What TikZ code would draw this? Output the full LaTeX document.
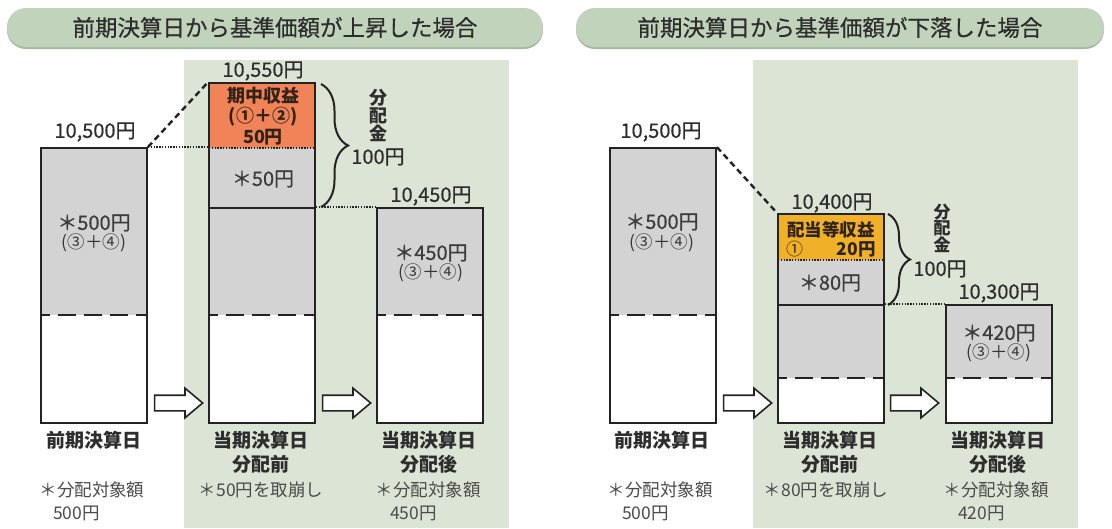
\documentclass[tikz,border=0pt]{standalone}
\usepackage{fontspec}
\setmainfont{Noto Sans CJK JP}
\newfontfamily\medfont[FakeBold=0.5]{Noto Sans CJK JP}
\usetikzlibrary{shapes.arrows,decorations.pathreplacing}
\definecolor{pillc}{RGB}{193,211,187}
\definecolor{pillsh}{RGB}{166,186,160}
\definecolor{greenbg}{RGB}{219,228,213}
\definecolor{grayc}{RGB}{211,211,211}
\definecolor{orangeL}{RGB}{240,131,88}
\definecolor{amberR}{RGB}{240,176,40}
\definecolor{txt}{RGB}{45,45,45}
\definecolor{lineC}{RGB}{35,35,35}
\begin{document}
\begin{tikzpicture}[x=1pt,y=-1pt,
  every node/.style={inner sep=0pt,text=txt},
  barbox/.style={draw=lineC,line width=1.8pt,minimum width=106pt,inner sep=0pt},
  bardash/.style={draw=lineC,line width=1.8pt,dash pattern=on 18pt off 8pt,dash phase=9pt},
  barsolid/.style={draw=lineC,line width=1.8pt},
  bardot/.style={draw=lineC,line width=1.4pt,dash pattern=on 1.4pt off 1.4pt},
  diag/.style={draw=lineC,line width=2.4pt,dash pattern=on 6pt off 4pt},
  hdot/.style={draw=lineC,line width=1.4pt,dash pattern=on 1.4pt off 1.4pt},
  pill/.style={rounded corners=19pt,minimum height=39pt,inner sep=0pt},
  ttl/.style={font=\medfont\fontsize{22.5}{24}\selectfont,text=txt},
  val/.style={font=\medfont\fontsize{20}{22}\selectfont},
  inb/.style={font=\medfont\fontsize{20}{22}\selectfont,text={rgb,255:red,60;green,60;blue,60}},
  par/.style={font=\fontsize{17.5}{19}\selectfont,text={rgb,255:red,55;green,55;blue,55}},
  hl/.style={font=\bfseries\fontsize{18}{20}\selectfont,text={rgb,255:red,50;green,35;blue,25}},
  capt/.style={font=\bfseries\fontsize{19}{24}\selectfont,align=center,anchor=north},
  note/.style={font=\fontsize{17.5}{19}\selectfont,text={rgb,255:red,75;green,75;blue,75}},
  vert/.style={font=\bfseries\fontsize{18}{18}\selectfont,align=center},
  blk/.style={single arrow,draw=lineC,fill=white,line width=1.6pt,inner xsep=0pt,inner ysep=7pt,
    single arrow head extend=7pt,single arrow tip angle=80,minimum height=48pt},
  brc/.style={draw=lineC,line width=2pt,decorate}
]
\useasboundingbox (0,0) rectangle (1112,528);
\fill[white] (0,0) rectangle (1112,528);

% ---------- titles ----------
\fill[pillsh,rounded corners=19pt] (7,10) rectangle (543,49);
\node[pill,fill=pillc,minimum width=536pt] (T1) at (275,27.5) {};
\node[ttl] (T1t) at (T1.center) {前期決算日から基準価額が上昇した場合};
\fill[pillsh,rounded corners=19pt] (576,10) rectangle (1104,49);
\node[pill,fill=pillc,minimum width=528pt] (T2) at (840,27.5) {};
\node[ttl] (T2t) at (T2.center) {前期決算日から基準価額が下落した場合};

% ---------- green backgrounds ----------
\fill[greenbg] (184,60) rectangle (509,528);
\fill[greenbg] (753,60) rectangle (1078,528);

% ================= LEFT =================
% bar L1
\fill[grayc] (41,148) rectangle (147,315);
\fill[white] (41,315) rectangle (147,423);
\draw[bardash] (41,315) -- (147,315);
\node[barbox,minimum height=275pt] (L1) at (94,285.5) {};
% bar L2
\fill[orangeL] (209,83) rectangle (315,148);
\fill[grayc] (209,148) rectangle (315,315);
\fill[white] (209,315) rectangle (315,423);
\draw[bardot] (209,148) -- (315,148);
\draw[barsolid] (209,208) -- (315,208);
\draw[bardash] (209,315) -- (315,315);
\node[barbox,minimum height=340pt] (L2) at (262,253) {};
% bar L3
\fill[grayc] (377,208) rectangle (483,315);
\fill[white] (377,315) rectangle (483,423);
\draw[bardash] (377,315) -- (483,315);
\node[barbox,minimum height=215pt] (L3) at (430,315.5) {};

% connectors
\coordinate (L2a) at (L2.west |- L1.north east);
\coordinate (L2b) at (L2.east |- L3.north);
\draw[diag] (L1.north east) -- (L2.north west);
\draw[hdot] (L1.north east) -- (L2a);
\draw[hdot] (L2b) -- (L3.north west);

% brace
\coordinate (LB1) at (321,84);
\coordinate (LB2) at (321,207);
\draw[brc,decoration={brace,amplitude=27pt}] (LB1) -- (LB2);
\node[vert] (LV) at (378,115) {分\\配\\金};
\node[val] (L100) at (378,157) {100円};

% block arrows
\node[blk] (LA1) at (174,403) {};
\node[blk] (LA2) at (342,403) {};

% values
\node[val] (Lv1) at (95,132) {10,500円};
\node[val] (Lv2) at (263,71) {10,550円};
\node[val] (Lv3) at (431,196) {10,450円};
\node[inb] (Li1) at (94,223) {＊500円};
\node[par] (Lp1) at (94,243) {(③＋④)};
\node[hl] (Lo1) at (263,96) {期中収益};
\node[hl] (Lo2) at (263,117) {(①＋②)};
\node[hl] (Lo3) at (263,137) {50円};
\node[inb] (Li2) at (263,179) {＊50円};
\node[inb] (Li3) at (431,253) {＊450円};
\node[par] (Lp3) at (431,273) {(③＋④)};

% captions
\node[capt] (Lc1) at (94,431) {前期決算日};
\node[capt] (Lc2) at (261,431) {当期決算日\\分配前};
\node[capt] (Lc3) at (429,431) {当期決算日\\分配後};
\node[note] (Ln1) at (92,490) {＊分配対象額};
\node[note,anchor=west] (Ln1b) at (53,513) {500円};
\node[note] (Ln2) at (261,490) {＊50円を取崩し};
\node[note] (Ln3) at (428,490) {＊分配対象額};
\node[note,anchor=west] (Ln3b) at (390,513) {450円};

% ================= RIGHT =================
% bar R1
\fill[grayc] (610,148) rectangle (716,315);
\fill[white] (610,315) rectangle (716,423);
\draw[bardash] (610,315) -- (716,315);
\node[barbox,minimum height=275pt] (R1) at (663,285.5) {};
% bar R2
\fill[amberR] (778,214) rectangle (884,260);
\fill[grayc] (778,260) rectangle (884,378);
\fill[white] (778,378) rectangle (884,423);
\draw[bardot] (778,260) -- (884,260);
\draw[barsolid] (778,305) -- (884,305);
\draw[bardash] (778,378) -- (884,378);
\node[barbox,minimum height=209pt] (R2) at (831,318.5) {};
% bar R3
\fill[grayc] (946,305) rectangle (1052,378);
\fill[white] (946,378) rectangle (1052,423);
\draw[bardash] (946,378) -- (1052,378);
\node[barbox,minimum height=118pt] (R3) at (999,364) {};

% connectors
\coordinate (R2b) at (R2.east |- R3.north);
\draw[diag] (R1.north east) -- (R2.north west);
\draw[hdot] (R2b) -- (R3.north west);

% brace
\coordinate (RB1) at (888,214);
\coordinate (RB2) at (888,305);
\draw[brc,decoration={brace,amplitude=22pt}] (RB1) -- (RB2);
\node[vert,font=\bfseries\fontsize{17}{16.5}\selectfont] (RV) at (942,228) {分\\配\\金};
\node[val] (R100) at (940,269) {100円};

% block arrows
\node[blk] (RA1) at (743,403) {};
\node[blk] (RA2) at (910,403) {};

% values
\node[val] (Rv1) at (661,132) {10,500円};
\node[val] (Rv2) at (832,203) {10,400円};
\node[val] (Rv3) at (999,293) {10,300円};
\node[inb] (Ri1) at (662,222) {＊500円};
\node[par] (Rp1) at (662,243) {(③＋④)};
\node[hl,font=\bfseries\fontsize{17.5}{19}\selectfont] (Ro1) at (831,230) {配当等収益};
\node[hl,font=\fontsize{17}{19}\selectfont,anchor=west] (Ro2) at (786,249) {①};
\node[hl,font=\bfseries\fontsize{17.5}{19}\selectfont,anchor=east] (Ro3) at (876,249) {20円};
\node[inb] (Ri2) at (830,283) {＊80円};
\node[inb] (Ri3) at (999,333) {＊420円};
\node[par] (Rp3) at (999,353) {(③＋④)};

% captions
\node[capt] (Rc1) at (662,431) {前期決算日};
\node[capt] (Rc2) at (830,431) {当期決算日\\分配前};
\node[capt] (Rc3) at (998,431) {当期決算日\\分配後};
\node[note] (Rn1) at (660,490) {＊分配対象額};
\node[note,anchor=west] (Rn1b) at (622,513) {500円};
\node[note] (Rn2) at (826,490) {＊80円を取崩し};
\node[note] (Rn3) at (996,490) {＊分配対象額};
\node[note,anchor=west] (Rn3b) at (958,513) {420円};
\end{tikzpicture}
\end{document}
